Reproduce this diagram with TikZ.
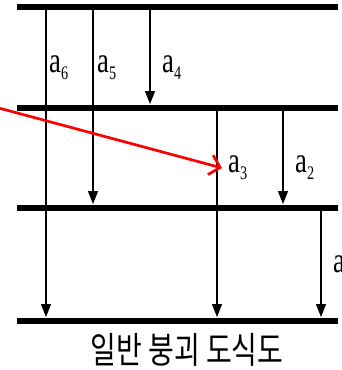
\documentclass[tikz,border=0pt]{standalone}
\usepackage{fontspec}
\setmainfont{Liberation Serif}
\newfontfamily\krfont{Noto Sans CJK KR}
\usetikzlibrary{arrows.meta}
\newcommand{\lab}[1]{\scalebox{0.95}[1.28]{\fontsize{28}{28}\selectfont a\raisebox{-6pt}{\fontsize{15}{15}\selectfont #1}}}
\begin{document}
\begin{tikzpicture}[x=1pt,y=-1pt,
  level/.style={line width=6pt},
  trans/.style={line width=1.2pt,-{Triangle[width=10pt,length=13pt]}},
  lbl/.style={anchor=base west,inner sep=0pt},
  hint/.style={draw=red,line width=2.7pt,-{Straight Barb[length=10pt,width=20pt,line width=2.7pt]}}]
\useasboundingbox (0,0) rectangle (341,370);
\clip (0,0) rectangle (341,370);
% levels
\coordinate (L0a) at (17,7);   \coordinate (L0b) at (338,7);
\coordinate (L1a) at (17,108); \coordinate (L1b) at (338,108);
\coordinate (L2a) at (17,208); \coordinate (L2b) at (338,208);
\coordinate (L3a) at (17,321); \coordinate (L3b) at (338,321);
\draw[level] (L0a) -- (L0b);
\draw[level] (L1a) -- (L1b);
\draw[level] (L2a) -- (L2b);
\draw[level] (L3a) -- (L3b);
% transitions
\coordinate (t6s) at (46,7);   \coordinate (t6e) at (46,317);
\coordinate (t5s) at (93,7);   \coordinate (t5e) at (93,204);
\coordinate (t4s) at (150,7);  \coordinate (t4e) at (150,104);
\coordinate (t3s) at (217,108);\coordinate (t3e) at (217,317);
\coordinate (t2s) at (283,108);\coordinate (t2e) at (283,204);
\coordinate (t1s) at (321,208);\coordinate (t1e) at (321,317);
\draw[trans] (t6s) -- (t6e);
\draw[trans] (t5s) -- (t5e);
\draw[trans] (t4s) -- (t4e);
\draw[trans] (t3s) -- (t3e);
\draw[trans] (t2s) -- (t2e);
\draw[trans] (t1s) -- (t1e);
% labels
\node[lbl] (a6) at (49,72) {\lab{6}};
\node[lbl] (a5) at (97,72) {\lab{5}};
\node[lbl] (a4) at (162,72) {\lab{4}};
\node[lbl] (a3) at (228,172) {\lab{3}};
\node[lbl] (a2) at (295,172) {\lab{2}};
\node[lbl] (a1) at (333,272) {\lab{1}};
% red pointer
\coordinate (rs) at (-5,107);
\coordinate (re) at (222,168);
\draw[hint] (rs) -- (re);
% caption
\node[inner sep=0pt] (cap) at (187,350) {\scalebox{1}[1.3]{\krfont\fontsize{28}{28}\selectfont 일반 붕괴 도식도}};
\end{tikzpicture}
\end{document}
